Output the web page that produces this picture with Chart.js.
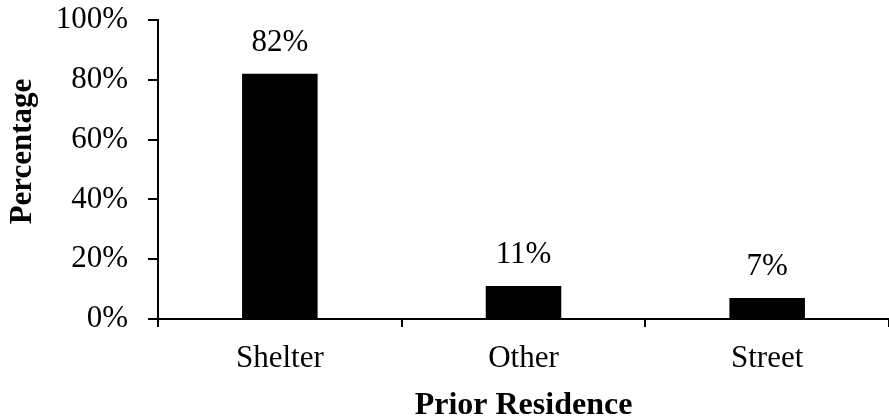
<!DOCTYPE html>
<html>
<head>
<meta charset="utf-8">
<script src="https://cdn.jsdelivr.net/npm/chart.js@4/dist/chart.umd.min.js"></script>
<style>
  html, body { margin: 0; padding: 0; background: #fff; }
  #wrap { width: 889px; height: 417px; }
</style>
</head>
<body>
<div id="wrap"><canvas id="c" width="889" height="417"></canvas></div>
<script>
// Share of residents by where they lived before
const categories = ['Shelter', 'Other', 'Street'];
const percentages = [82, 11, 7];
const yTicks = [0, 20, 40, 60, 80, 100];
const yTitle = 'Percentage';
const xTitle = 'Prior Residence';

const SERIF = "'Liberation Serif', 'Times New Roman', serif";

// Writes each bar's percentage just above it
const valueLabels = {
  id: 'valueLabels',
  afterDatasetsDraw(chart) {
    const ctx = chart.ctx;
    const meta = chart.getDatasetMeta(0);
    ctx.save();
    ctx.font = `31px ${SERIF}`;
    ctx.fillStyle = '#000';
    ctx.textAlign = 'center';
    ctx.textBaseline = 'alphabetic';
    meta.data.forEach((bar, i) => {
      ctx.fillText(percentages[i] + '%', bar.x, bar.y - 23);
    });
    ctx.restore();
  }
};

// Vertical axis title, sitting slightly above the plot's middle
const sideTitle = {
  id: 'sideTitle',
  afterDraw(chart) {
    const ctx = chart.ctx;
    const area = chart.chartArea;
    ctx.save();
    ctx.font = `bold 31px ${SERIF}`;
    ctx.fillStyle = '#000';
    ctx.textAlign = 'center';
    ctx.textBaseline = 'middle';
    ctx.translate(23, (area.top + area.bottom) / 2 - 18);
    ctx.rotate(-Math.PI / 2);
    ctx.fillText(yTitle, 0, 0);
    ctx.restore();
  }
};

new Chart(document.getElementById('c'), {
  type: 'bar',
  data: {
    labels: categories,
    datasets: [{
      data: percentages,
      backgroundColor: '#000',
      borderColor: '#000',
      borderWidth: 0,
      barPercentage: 0.31,
      categoryPercentage: 1.0
    }]
  },
  options: {
    responsive: false,
    animation: false,
    events: [],
    layout: { padding: { top: 20, right: 0, left: 0, bottom: 0 } },
    plugins: {
      legend: { display: false },
      tooltip: { enabled: false }
    },
    scales: {
      x: {
        grid: {
          offset: true,
          drawOnChartArea: false,
          drawTicks: true,
          tickLength: 8,
          color: '#000',
          lineWidth: 2
        },
        border: { display: true, color: '#000', width: 2 },
        ticks: {
          color: '#000',
          font: { family: SERIF, size: 31 },
          padding: 13
        },
        title: {
          display: true,
          text: xTitle,
          color: '#000',
          font: { family: SERIF, size: 32, weight: 'bold', lineHeight: 0.8 },
          padding: { top: 7, bottom: -2 }
        },
        afterFit(scale) {
          scale.height = 98;
          scale.paddingLeft = 0;
          scale.paddingRight = 0;
        }
      },
      y: {
        min: 0,
        max: 100,
        afterBuildTicks(scale) { scale.ticks = yTicks.map(v => ({ value: v })); },
        grid: {
          drawOnChartArea: false,
          drawTicks: true,
          tickLength: 10,
          color: '#000',
          lineWidth: 2
        },
        border: { display: true, color: '#000', width: 2 },
        ticks: {
          color: '#000',
          font: { family: SERIF, size: 31 },
          padding: 20,
          callback: v => v + '%'
        },
        afterFit(scale) {
          scale.width = 158;
          scale.paddingTop = 0;
          scale.paddingBottom = 0;
        }
      }
    }
  },
  plugins: [valueLabels, sideTitle]
});
</script>
</body>
</html>
